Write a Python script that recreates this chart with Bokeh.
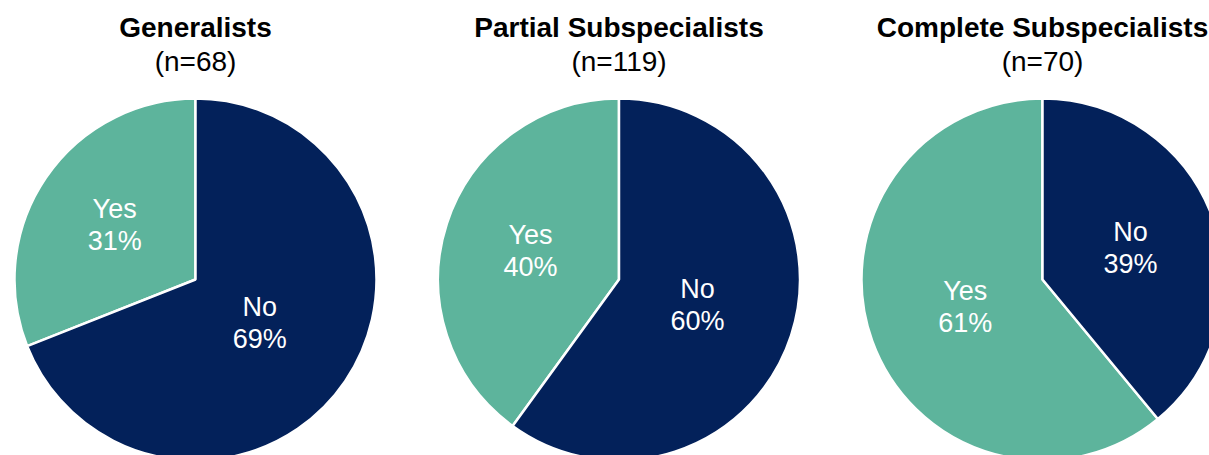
import math
from bokeh.plotting import figure
from bokeh.models import Range1d
from bokeh.core.properties import value
from bokeh.embed import file_html
from bokeh.resources import INLINE

# ---- data ----
groups = ["Generalists", "Partial Subspecialists", "Complete Subspecialists"]
counts = [68, 119, 70]
yes_pct = [31, 40, 61]
no_pct = [69, 60, 39]
answers = ["Yes", "No"]

# ---- style ----
NAVY = "#03215A"
GREEN = "#5DB49C"
FONT = "Liberation Sans"

W, H = 1209, 455
p = figure(width=W, height=H, output_backend="svg", toolbar_location=None,
           x_range=Range1d(0, W), y_range=Range1d(-H, 0),
           min_border=0, outline_line_color=None)
p.axis.visible = False
p.grid.visible = False
p.background_fill_color = "white"
p.border_fill_color = "white"

R = 181
CY = -279
X0, DX = 195, 423.5
SHIFT = 9  # baseline correction (px)

for i, g in enumerate(groups):
    cx = X0 + i * DX
    fy = yes_pct[i] / 100.0
    top = math.pi / 2
    a_yes_end = top + 2 * math.pi * fy
    # Yes slice: counter-clockwise from 12 o'clock
    p.wedge(x=[cx], y=[CY], radius=R, start_angle=top, end_angle=a_yes_end,
            direction="anticlock", fill_color=GREEN, line_color="white", line_width=2.5)
    # No slice: the rest
    p.wedge(x=[cx], y=[CY], radius=R, start_angle=a_yes_end, end_angle=top + 2 * math.pi,
            direction="anticlock", fill_color=NAVY, line_color="white", line_width=2.5)

    # labels at slice mid-angles (smaller slices -> label further out)
    fracs = [fy, no_pct[i] / 100.0]
    mids = [top + math.pi * fracs[0], a_yes_end + math.pi * fracs[1]]
    vals = [yes_pct[i], no_pct[i]]
    for ans, m, v, f in zip(answers, mids, vals, fracs):
        d = R * (0.63 - 0.29 * f)
        lx = cx + d * math.cos(m)
        ly = CY + d * math.sin(m) + SHIFT
        p.text(x=[lx], y=[ly + 7], text=[ans], text_font=value(FONT),
               text_font_size="27px", text_color="white",
               text_align="center", text_baseline="alphabetic")
        p.text(x=[lx], y=[ly - 25], text=[f"{v}%"], text_font=value(FONT),
               text_font_size="27px", text_color="white",
               text_align="center", text_baseline="alphabetic")

    # titles
    p.text(x=[cx], y=[-36 + SHIFT], text=[g], text_font=value(FONT), text_font_size="28px",
           text_font_style="bold", text_color="black",
           text_align="center", text_baseline="alphabetic")
    p.text(x=[cx], y=[-70 + SHIFT], text=[f"(n={counts[i]})"], text_font=value(FONT),
           text_font_size="28px", text_color="black",
           text_align="center", text_baseline="alphabetic")

open("out.html", "w").write(file_html(p, INLINE))
